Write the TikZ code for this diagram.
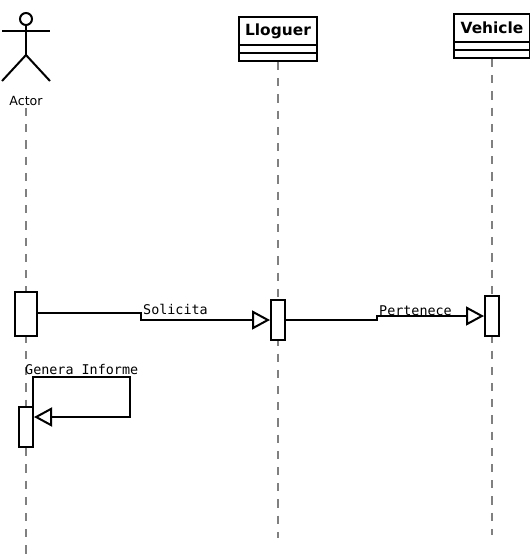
\documentclass[tikz,border=0pt]{standalone}
\usepackage{fontspec}
\usetikzlibrary{arrows.meta}
\newfontfamily\labelfont{DejaVu Sans}
\newfontfamily\msgfont{DejaVu Sans Mono}

\tikzset{
  lifeline/.style={gray, line width=2pt, dash pattern=on 8.1pt off 8.1pt},
  header/.style={draw, line width=2pt, fill=white, minimum height=44pt, inner sep=0pt},
  bar/.style={draw, line width=2pt, fill=white, minimum width=14pt, minimum height=40pt, inner sep=0pt},
  msg/.style={line width=2pt, -{Triangle[open, length=18pt, width=19pt, line width=2pt]}},
  msglabel/.style={font=\msgfont\fontsize{13.4}{15}\selectfont, inner sep=0pt, anchor=base west},
  title/.style={font=\labelfont\bfseries\fontsize{15.4}{17}\selectfont, inner sep=0pt}
}

\begin{document}
\begin{tikzpicture}[x=1pt, y=-1pt]
\useasboundingbox (0,0) rectangle (530,560);

\node[header, minimum width=78pt] (boxLloguer) at (278,39) {};
\node[header, minimum width=76pt] (boxVehicle) at (492,36) {};
\node[inner sep=0pt, font=\labelfont\fontsize{12.6}{14}\selectfont] (nameActor) at (26,100.5) {Actor};

\coordinate (startActor) at (26,108);
\coordinate (endActor) at (26,560);
\coordinate (endLloguer) at (278,538);
\coordinate (endVehicle) at (492,535);

\draw[lifeline] (startActor) -- (endActor);
\draw[lifeline] (boxLloguer.south) -- (endLloguer);
\draw[lifeline] (boxVehicle.south) -- (endVehicle);

% actor figure
\node[draw, circle, line width=2pt, minimum size=12pt, inner sep=0pt] (head) at (26,19) {};
\coordinate (hip) at (26,55);
\coordinate (handL) at (2,31);
\coordinate (handR) at (50,31);
\coordinate (footL) at (2,81);
\coordinate (footR) at (50,81);
\draw[line width=2pt] (head.south) -- (hip);
\draw[line width=2pt] (handL) -- (handR);
\draw[line width=2pt] (footL) -- (hip) -- (footR);

% header compartments
\node[title] (nameLloguer) at (278,31) {Lloguer};
\node[title] (nameVehicle) at (492,28) {Vehicle};
\draw[line width=2pt] (boxLloguer.west |- 0,45) -- (boxLloguer.east |- 0,45);
\draw[line width=2pt] (boxLloguer.west |- 0,53) -- (boxLloguer.east |- 0,53);
\draw[line width=2pt] (boxVehicle.west |- 0,42) -- (boxVehicle.east |- 0,42);
\draw[line width=2pt] (boxVehicle.west |- 0,50) -- (boxVehicle.east |- 0,50);

% activations
\node[bar, minimum width=22pt, minimum height=44pt] (barActor) at (26,314) {};
\node[bar] (barLloguer) at (278,320) {};
\node[bar] (barVehicle) at (492,316) {};
\node[bar] (barInforme) at (26,427) {};

% messages
\coordinate (stepSolicita) at (141,316);
\coordinate (stepPertenece) at (377,318);
\coordinate (loopTop) at (130,377);
\coordinate (loopBottom) at (130,417);
\draw[msg] ([yshift=1pt]barActor.east) -| (stepSolicita) |- (barLloguer.west);
\draw[msg] (barLloguer.east) -| (stepPertenece) |- (barVehicle.west);
\draw[msg] ([xshift=-1pt]barInforme.north east) |- (loopTop) -- (loopBottom) -- (barInforme.east |- loopBottom);

\node[msglabel] (lblSolicita) at (143,314) {Solicita};
\node[msglabel] (lblPertenece) at (379,315) {Pertenece};
\node[msglabel] (lblInforme) at (25,374) {Genera Informe};
\end{tikzpicture}
\end{document}
